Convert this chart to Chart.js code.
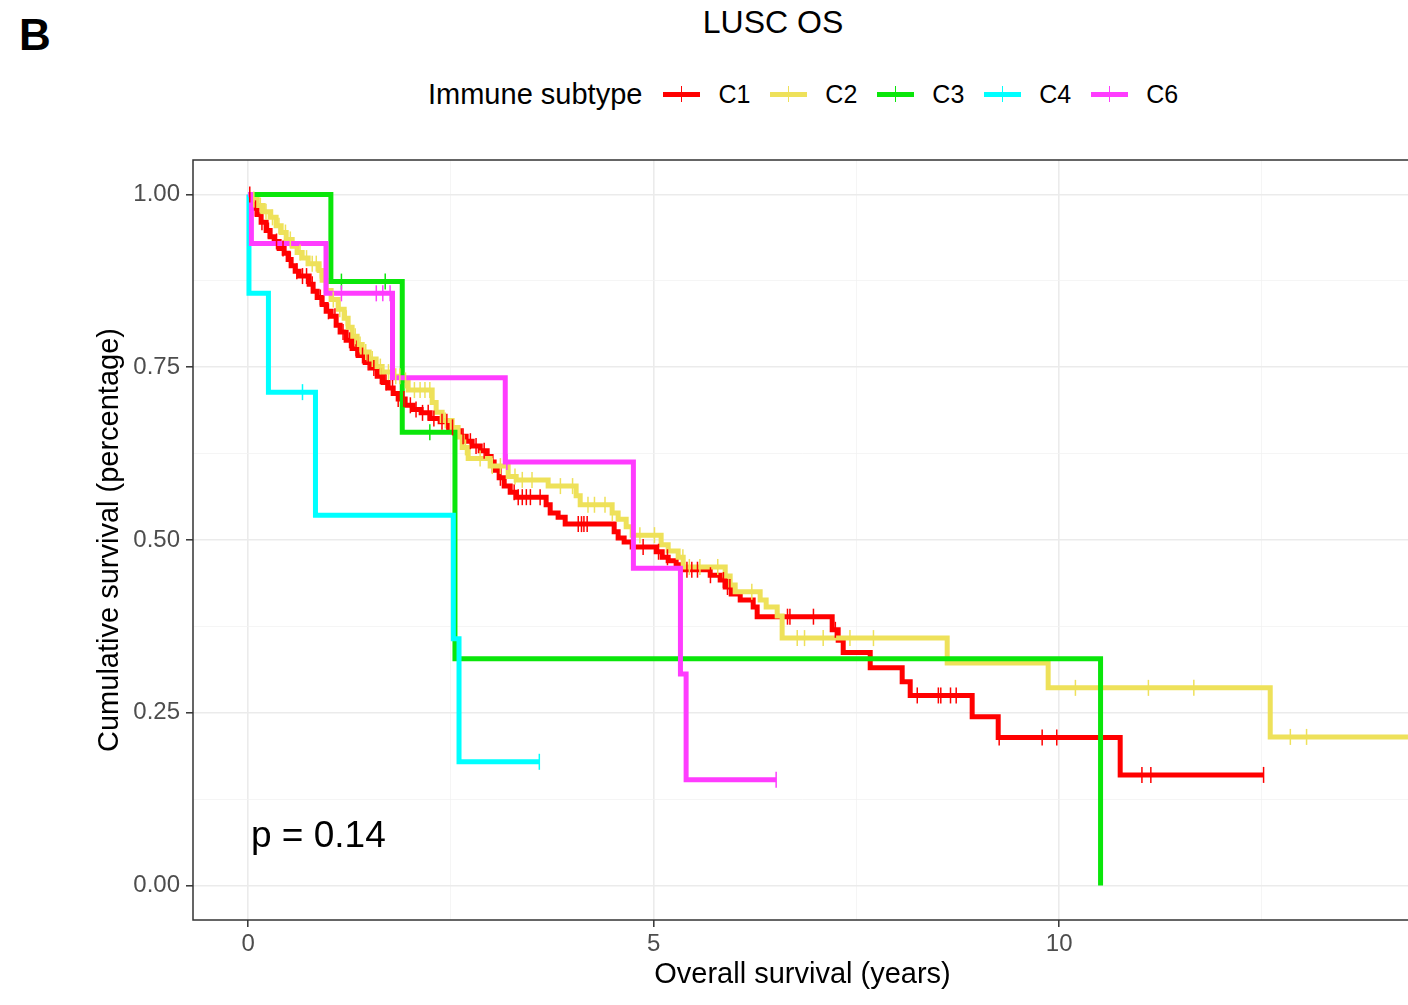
<!DOCTYPE html>
<html>
<head>
<meta charset="utf-8">
<script src="https://cdn.jsdelivr.net/npm/chart.js"></script>
<style>
  html, body { margin: 0; padding: 0; background: #fff; overflow: hidden; }
  body { width: 1408px; height: 1005px; position: relative; font-family: "Liberation Sans", Arial, sans-serif; }
  #chart { position: absolute; left: 0; top: 0; }
  .txt { position: absolute; white-space: nowrap; line-height: 1; color: #000; }
  #legend { position: absolute; left: 428px; top: 79px; height: 30px; display: flex; align-items: center; font-size: 29px; white-space: nowrap; }
  #legend .sw { position: relative; width: 37px; height: 5px; margin-right: 18px; }
  #legend .sw i { position: absolute; left: 17.5px; top: -5.5px; width: 1.5px; height: 16px; }
  #legend .lab { margin-right: 20px; font-size: 25px; }
</style>
</head>
<body>
<div class="txt" style="left:19px;top:13px;font-size:44px;font-weight:bold">B</div>
<div class="txt" style="left:773px;top:6px;font-size:32px;transform:translateX(-50%)">LUSC OS</div>
<div id="legend"><span style="margin-right:21px">Immune subtype</span></div>
<canvas id="chart" width="1412" height="1005"></canvas>
<script>
// survival curves (time in years, survival after each step)
const c1Time = [0, 0.025, 0.062, 0.111, 0.160, 0.222, 0.271, 0.321, 0.382, 0.444, 0.493, 0.530, 0.580, 0.629, 0.752, 0.801, 0.851, 0.912, 0.962, 1.023,
  1.085, 1.134, 1.208, 1.282, 1.356, 1.443, 1.517, 1.591, 1.665, 1.726, 1.788, 1.850, 1.936, 2.035, 2.133, 2.244, 2.367, 2.478, 2.552, 2.614,
  2.688, 2.762, 2.861, 2.947, 2.996, 3.033, 3.095, 3.157, 3.231, 3.305, 3.674, 3.724, 3.822, 3.909, 4.513, 4.562, 4.636, 4.735, 5.031, 5.105,
  5.179, 5.277, 5.351, 5.697, 5.820, 5.882, 5.956, 6.067, 6.227, 6.276, 7.201, 7.275, 7.337, 7.670, 8.064, 8.163, 8.927, 9.248, 10.752, 12.515];
const c1Surv = [1, 0.991, 0.980, 0.971, 0.960, 0.948, 0.939, 0.932, 0.922, 0.915, 0.906, 0.897, 0.889, 0.882, 0.870, 0.860, 0.851, 0.841, 0.831, 0.824,
  0.811, 0.801, 0.789, 0.777, 0.767, 0.757, 0.749, 0.737, 0.728, 0.720, 0.712, 0.704, 0.695, 0.689, 0.684, 0.676, 0.671, 0.663, 0.658, 0.650,
  0.643, 0.636, 0.629, 0.621, 0.613, 0.601, 0.590, 0.578, 0.569, 0.562, 0.551, 0.539, 0.533, 0.523, 0.512, 0.503, 0.497, 0.490, 0.483, 0.475,
  0.470, 0.464, 0.457, 0.449, 0.442, 0.432, 0.422, 0.413, 0.403, 0.389, 0.370, 0.355, 0.337, 0.315, 0.295, 0.275, 0.244, 0.214, 0.160, 0.160];
const c1Censor = [0.02, 0.09, 0.17, 0.25, 0.35, 0.43, 0.52, 0.60, 0.67, 0.72, 0.79, 0.89, 0.99, 1.07, 1.17, 1.25, 1.33, 1.41, 1.48, 1.55,
  1.63, 1.70, 1.78, 1.85, 1.92, 2.00, 2.07, 2.15, 2.22, 2.29, 2.39, 2.45, 2.52, 2.65, 2.74, 2.81, 2.91, 3.11, 3.28, 3.33,
  3.38, 3.43, 3.48, 3.60, 4.07, 4.11, 4.14, 4.18, 4.87, 5.06, 5.17, 5.41, 5.47, 5.54, 5.70, 5.86, 5.91, 5.94, 6.65, 6.68,
  6.97, 7.24, 8.25, 8.51, 8.54, 8.66, 8.73, 9.26, 9.79, 9.97, 11.02, 11.13, 12.52];

const c2Time = [0, 0.049, 0.111, 0.185, 0.271, 0.345, 0.407, 0.469, 0.543, 0.604, 0.666, 0.740, 0.875, 0.912, 0.962, 1.023, 1.110, 1.184, 1.233, 1.282,
  1.344, 1.406, 1.492, 1.578, 1.652, 1.776, 1.899, 1.973, 2.269, 2.318, 2.392, 2.515, 2.589, 2.639, 2.713, 2.984, 3.206, 3.305, 3.699, 4.044,
  4.094, 4.488, 4.562, 4.661, 4.735, 5.092, 5.179, 5.302, 5.364, 5.882, 5.943, 6.005, 6.313, 6.387, 6.523, 6.584, 8.619, 9.864, 12.602, 14.3];
const c2Surv = [1, 0.993, 0.984, 0.975, 0.967, 0.955, 0.945, 0.935, 0.925, 0.916, 0.908, 0.900, 0.890, 0.876, 0.861, 0.848, 0.834, 0.821, 0.808, 0.795,
  0.783, 0.772, 0.762, 0.751, 0.743, 0.737, 0.731, 0.717, 0.699, 0.685, 0.673, 0.663, 0.649, 0.634, 0.618, 0.607, 0.592, 0.587, 0.578, 0.564,
  0.551, 0.539, 0.530, 0.519, 0.507, 0.493, 0.484, 0.475, 0.461, 0.448, 0.435, 0.425, 0.413, 0.403, 0.390, 0.358, 0.322, 0.286, 0.215, 0.215];
const c2Censor = [0.07, 0.15, 0.22, 0.30, 0.38, 0.46, 0.52, 0.64, 0.72, 0.79, 0.84, 0.89, 1.05, 1.13, 1.21, 1.32, 1.38, 1.45, 1.53, 1.63,
  1.73, 1.82, 1.87, 1.94, 2.05, 2.12, 2.18, 2.24, 2.43, 2.68, 2.86, 3.01, 3.11, 3.29, 3.38, 3.50, 3.85, 4.00, 4.19, 4.27,
  4.40, 4.49, 4.83, 5.01, 5.36, 5.44, 5.57, 5.79, 6.21, 6.77, 6.86, 7.09, 7.42, 7.71, 10.20, 11.10, 11.66, 12.85, 13.05];

const c3Time = [0, 1.02, 1.90, 2.55, 10.51];
const c3Surv = [1, 0.874, 0.656, 0.328, 0];
const c3Censor = [1.15, 1.69, 2.24];

const c4Time = [0, 0.01, 0.25, 0.83, 2.53, 2.60, 3.59];
const c4Surv = [1, 0.857, 0.714, 0.536, 0.357, 0.179, 0.179];
const c4Censor = [0.67, 3.59];

const c6Time = [0, 0.04, 0.96, 1.78, 3.17, 4.75, 5.33, 5.40, 6.51];
const c6Surv = [1, 0.929, 0.857, 0.735, 0.613, 0.459, 0.306, 0.153, 0.153];
const c6Censor = [1.15, 1.58, 1.66, 1.75, 3.19, 6.51];

const subtypes = ['C1', 'C2', 'C3', 'C4', 'C6'];
const colors = ['#FF0000', '#EEE15A', '#0AE60A', '#00FFFF', '#FF3CFF'];

const xBreaks = [0, 5, 10];
const xMinor = [2.5, 7.5, 12.5];
const yBreaks = [0, 0.25, 0.5, 0.75, 1];
const yLabels = ['0.00', '0.25', '0.50', '0.75', '1.00'];
const yMinor = [0.125, 0.375, 0.625, 0.875];
const pText = 'p = 0.14';

const FONT = '"Liberation Sans", Arial, sans-serif';

function survAt(times, surv, t) {
  let s = surv[0];
  for (let i = 0; i < times.length; i++) if (times[i] <= t) s = surv[i];
  return s;
}

const curves = [
  [c1Time, c1Surv, c1Censor],
  [c2Time, c2Surv, c2Censor],
  [c3Time, c3Surv, c3Censor],
  [c4Time, c4Surv, c4Censor],
  [c6Time, c6Surv, c6Censor]
];

const datasets = [];
curves.forEach(([times, surv, cens], i) => {
  datasets.push({
    label: subtypes[i],
    data: times.map((t, k) => ({ x: t, y: surv[k] })),
    showLine: true,
    stepped: true,
    borderColor: colors[i],
    borderWidth: 5,
    pointRadius: 0,
    fill: false,
    order: 10 - i
  });
  datasets.push({
    label: subtypes[i] + ' censor',
    data: cens.map(t => ({ x: t, y: survAt(times, surv, t) })),
    showLine: false,
    pointStyle: 'line',
    rotation: 90,
    pointRadius: 8,
    pointBorderWidth: 1.5,
    borderColor: colors[i],
    backgroundColor: colors[i],
    order: 5 - i
  });
});

// legend in html
const legend = document.getElementById('legend');
subtypes.forEach((name, i) => {
  const sw = document.createElement('div');
  sw.className = 'sw';
  sw.style.background = colors[i];
  const tk = document.createElement('i');
  tk.style.background = colors[i];
  sw.appendChild(tk);
  const lab = document.createElement('span');
  lab.className = 'lab';
  lab.textContent = name;
  legend.appendChild(sw);
  legend.appendChild(lab);
});

const panel = {
  id: 'panel',
  afterDatasetsDraw(chart) {
    const { ctx, chartArea, scales } = chart;
    ctx.save();
    ctx.fillStyle = '#000';
    ctx.font = '37px ' + FONT;
    ctx.textBaseline = 'alphabetic';
    ctx.textAlign = 'left';
    ctx.fillText(pText, scales.x.getPixelForValue(0.035), scales.y.getPixelForValue(0.055));
    ctx.strokeStyle = '#333333';
    ctx.lineWidth = 1.5;
    ctx.strokeRect(chartArea.left, chartArea.top, chartArea.right - chartArea.left, chartArea.bottom - chartArea.top);
    ctx.restore();
  }
};

const xTicks = xBreaks.concat(xMinor).sort((a, b) => a - b);
const yTicks = yBreaks.concat(yMinor).sort((a, b) => a - b);

new Chart(document.getElementById('chart'), {
  type: 'scatter',
  data: { datasets },
  options: {
    responsive: false,
    animation: false,
    layout: { autoPadding: false, padding: { left: 0, right: 0, top: 160, bottom: 0 } },
    plugins: {
      legend: { display: false },
      tooltip: { enabled: false }
    },
    scales: {
      x: {
        type: 'linear',
        min: -0.68,
        max: 14.35,
        afterBuildTicks: s => { s.ticks = xTicks.map(v => ({ value: v })); },
        afterFit: s => { s.height = 85; },
        border: { display: false },
        grid: {
          color: c => xBreaks.includes(c.tick.value) ? '#EBEBEB' : '#F3F3F3',
          lineWidth: c => xBreaks.includes(c.tick.value) ? 1.6 : 0.8,
          tickColor: c => xBreaks.includes(c.tick.value) ? '#333333' : 'rgba(0,0,0,0)',
          tickLength: 7,
          tickWidth: 1.5
        },
        ticks: {
          autoSkip: false,
          maxRotation: 0,
          padding: 3,
          color: '#4D4D4D',
          font: { size: 24, family: FONT },
          callback: v => xBreaks.includes(v) ? String(v) : ''
        },
        title: {
          display: true,
          text: 'Overall survival (years)',
          color: '#000',
          font: { size: 29, family: FONT },
          padding: { top: 0, bottom: 12.6 }
        }
      },
      y: {
        type: 'linear',
        min: -0.05,
        max: 1.05,
        afterBuildTicks: s => { s.ticks = yTicks.map(v => ({ value: v })); },
        afterFit: s => { s.width = 193; },
        border: { display: false },
        grid: {
          color: c => yBreaks.includes(c.tick.value) ? '#EBEBEB' : '#F3F3F3',
          lineWidth: c => yBreaks.includes(c.tick.value) ? 1.6 : 0.8,
          tickColor: c => yBreaks.includes(c.tick.value) ? '#333333' : 'rgba(0,0,0,0)',
          tickLength: 7,
          tickWidth: 1.5
        },
        ticks: {
          autoSkip: false,
          padding: 6,
          color: '#4D4D4D',
          font: { size: 24, family: FONT },
          callback: v => { const k = yBreaks.indexOf(v); return k >= 0 ? yLabels[k] : ''; }
        },
        title: {
          display: true,
          text: 'Cumulative survival (percentage)',
          color: '#000',
          font: { size: 29, family: FONT },
          padding: { top: 92.6, bottom: 0 }
        }
      }
    }
  },
  plugins: [panel]
});
</script>
</body>
</html>
